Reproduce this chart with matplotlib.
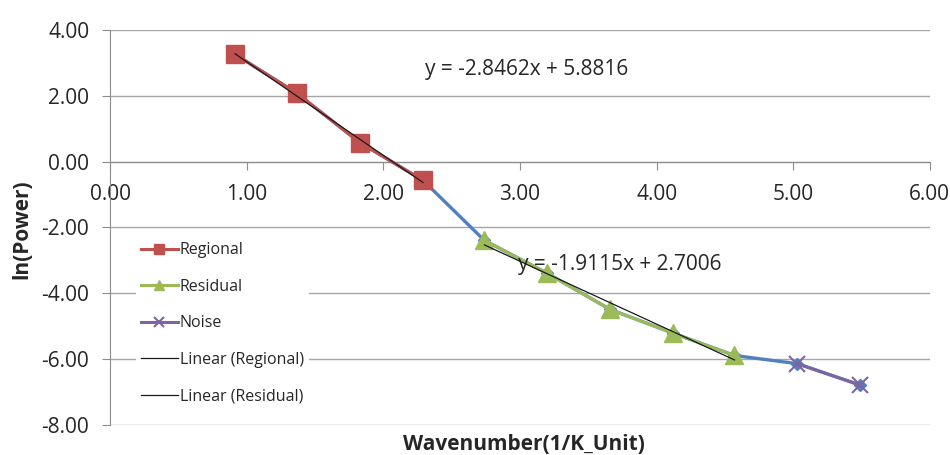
import matplotlib
matplotlib.use("Agg")
import matplotlib.pyplot as plt

plt.rcParams["font.family"] = ["Open Sans", "DejaVu Sans"]

# wavenumber positions and ln(power) values
all_x = [0.915, 1.37, 1.83, 2.29, 2.74, 3.20, 3.66, 4.12, 4.57, 5.03, 5.49]
all_y = [3.26, 2.07, 0.57, -0.57, -2.40, -3.40, -4.50, -5.22, -5.90, -6.15, -6.80]

regional_x = [0.915, 1.37, 1.83, 2.29]
regional_y = [3.26, 2.07, 0.57, -0.57]
residual_x = [2.74, 3.20, 3.66, 4.12, 4.57]
residual_y = [-2.40, -3.40, -4.50, -5.22, -5.90]
noise_x = [5.03, 5.49]
noise_y = [-6.15, -6.80]

reg_fit = (-2.8462, 5.8816)
res_fit = (-1.9115, 2.7006)

xticks = [0, 1, 2, 3, 4, 5, 6]
yticks = [-8, -6, -4, -2, 0, 2, 4]

fig = plt.figure(figsize=(9.5, 4.55), dpi=100)
ax = fig.add_axes([0.1158, 0.067, 0.863, 0.867])

ax.plot(all_x, all_y, color="#4F81BD", lw=2.4, marker="D", ms=6, zorder=2)
ax.plot(regional_x, regional_y, color="#C0504D", lw=2.2, marker="s", ms=13,
        label="Regional", zorder=3)
ax.plot(residual_x, residual_y, color="#9BBB59", lw=2.2, marker="^", ms=13,
        label="Residual", zorder=3)
ax.plot(noise_x, noise_y, color="#8064A2", lw=2.2, marker="x", ms=12, mew=1.5,
        label="Noise", zorder=3)

rx = [regional_x[0], regional_x[-1]]
ax.plot(rx, [reg_fit[0] * v + reg_fit[1] for v in rx], color="#1a1a1a", lw=0.9,
        label="Linear (Regional)", zorder=4)
sx = [residual_x[0], residual_x[-1]]
ax.plot(sx, [res_fit[0] * v + res_fit[1] for v in sx], color="#1a1a1a", lw=0.9,
        label="Linear (Residual)", zorder=4)

ax.text(2.305, 2.63, "y = -2.8462x + 5.8816", fontsize=15, color="#262626",
        va="baseline")
ax.text(2.985, -3.30, "y = -1.9115x + 2.7006", fontsize=15, color="#262626",
        va="baseline")

ax.set_xlim(0, 6)
ax.set_ylim(-8, 4)
ax.set_xticks(xticks)
ax.set_yticks(yticks)
ax.set_xticklabels([f"{v:.2f}" for v in xticks])
ax.set_yticklabels([f"{v:.2f}" for v in yticks])

ax.grid(axis="y", color="#A6A6A6", lw=1.0)
ax.set_axisbelow(True)
for s in ["top", "right"]:
    ax.spines[s].set_visible(False)
ax.spines["bottom"].set_position(("data", 0))
ax.spines["bottom"].set_color("#8C8C8C")
ax.spines["left"].set_color("#8C8C8C")
ax.tick_params(axis="x", direction="out", length=6, pad=10, color="#8C8C8C",
               labelsize=15, labelcolor="#262626")
ax.tick_params(axis="y", direction="out", length=6, pad=9, color="#8C8C8C",
               labelsize=15, labelcolor="#262626")

leg = ax.legend(loc="upper left", bbox_to_anchor=(0.0317, 0.474), fontsize=11.5,
                frameon=True, facecolor="white", edgecolor="none", framealpha=1,
                markerscale=0.55, labelspacing=1.28, handlelength=2.3,
                handletextpad=0.15, borderpad=0.3, borderaxespad=0,
                fancybox=False)
leg.set_zorder(5)
for t in leg.get_texts():
    t.set_color("#262626")

fig.text(0.551, 0.011, "Wavenumber(1/K_Unit)", ha="center", va="baseline",
         fontsize=15, fontweight="bold", color="#262626")
fig.text(0.023, 0.497, "ln(Power)", ha="center", va="center", rotation=90,
         fontsize=15, fontweight="bold", color="#262626")

fig.savefig("out.png", dpi=100)
